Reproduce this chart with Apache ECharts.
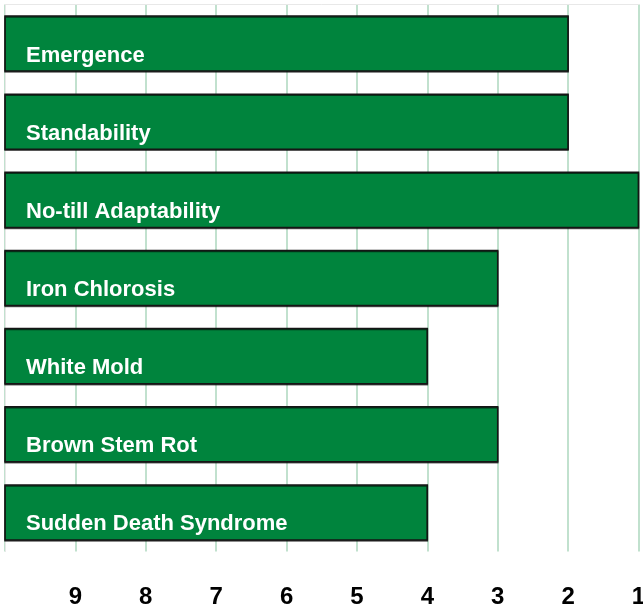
<!DOCTYPE html>
<html>
<head>
<meta charset="utf-8">
<script src="https://cdn.jsdelivr.net/npm/echarts@6/dist/echarts.min.js"></script>
<style>
html, body { margin: 0; padding: 0; background: #fff; }
#main { width: 643px; height: 607px; }
</style>
</head>
<body>
<div id="main"></div>
<script>
// traits, top to bottom
var traits = ['Emergence', 'Standability', 'No-till Adaptability', 'Iron Chlorosis',
	'White Mold', 'Brown Stem Rot', 'Sudden Death Syndrome'];
// rating (1 = best), bars grow from 10 on the left
var ratings = [2, 2, 1, 3, 4, 3, 4];
var scaleStart = 10;
var tickValues = [9, 8, 7, 6, 5, 4, 3, 2, 1];

var myChart = echarts.init(document.getElementById('main'));

var barData = [];
for (var i = 0; i < traits.length; i++) {
	barData.push([ratings[i], traits[i]]);
}

function renderBar(params, api) {
	var idx = params.dataIndex;
	var from = api.coord([scaleStart, idx]);
	var to = api.coord([api.value(0), idx]);
	var h = api.size([0, 1])[1] * 0.705;
	return {
		type: 'group',
		children: [
			{
				type: 'rect',
				shape: { x: from[0], y: from[1] - h / 2, width: to[0] - from[0], height: h },
				style: {
					fill: '#00843d', stroke: '#151515', lineWidth: 1.5,
					shadowColor: 'rgba(0,0,0,0.6)', shadowOffsetY: 1, shadowBlur: 0
				}
			},
			{
				type: 'text',
				style: {
					text: traits[idx],
					x: from[0] + 21,
					y: from[1] + 12,
					fill: '#ffffff',
					font: 'bold 22px "Liberation Sans", Arial, sans-serif',
					align: 'left',
					verticalAlign: 'middle'
				}
			}
		]
	};
}

var option = {
	animation: false,
	grid: { left: 5, right: 4.5, top: 4.5, bottom: 55.5, outerBoundsMode: 'none', containLabel: false },
	xAxis: [
		{
			type: 'value',
			inverse: true,
			min: 1,
			max: 10,
			interval: 1,
			axisLine: { show: false },
			axisTick: { show: false },
			splitLine: { show: true, lineStyle: { color: '#acd7be', width: 1.5 } },
			axisLabel: {
				margin: 46,
				verticalAlign: 'middle',
				color: '#000',
				fontSize: 24,
				fontWeight: 'bold',
				fontFamily: '"Liberation Sans", Arial, sans-serif',
				hideOverlap: false,
				formatter: function (v) {
					return tickValues.indexOf(v) >= 0 ? String(v) : '';
				}
			}
		},
		{
			type: 'value',
			position: 'top',
			inverse: true,
			min: 1,
			max: 10,
			axisLine: { show: true, lineStyle: { color: '#e8e8e8' } },
			axisTick: { show: false },
			axisLabel: { show: false },
			splitLine: { show: false }
		}
	],
	yAxis: {
		type: 'category',
		inverse: true,
		data: traits,
		axisLine: { show: true, lineStyle: { color: '#e8e8e8' } },
		axisTick: { show: false },
		axisLabel: { show: false }
	},
	series: [
		{
			name: 'Rating',
			type: 'custom',
			renderItem: renderBar,
			encode: { x: 0, y: 1 },
			data: barData
		}
	]
};
myChart.setOption(option);
</script>
</body>
</html>
